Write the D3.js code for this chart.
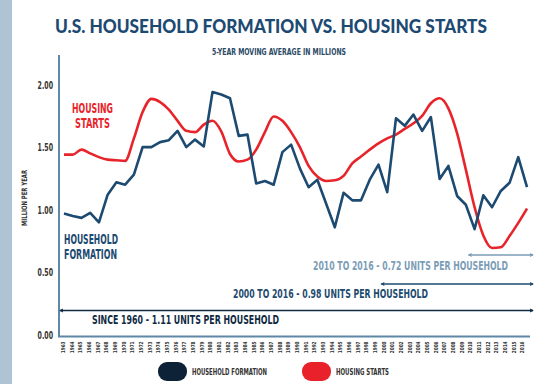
<!DOCTYPE html>
<html>
<head>
<meta charset="utf-8">
<script src="https://cdn.jsdelivr.net/npm/d3@7"></script>
<style>
  body { margin: 0; background: #fff; }
  svg { display: block; }
  .cond { font-family: "DejaVu Sans Condensed", "Liberation Sans Narrow", "DejaVu Sans", sans-serif; font-weight: bold; }
</style>
</head>
<body>
<div id="chart"></div>
<script>
// data (millions, 5-yr moving avg)
var years = d3.range(1963, 2017);
var householdFormation = [
  0.97, 0.95, 0.935, 0.975, 0.90, 1.12, 1.22, 1.20, 1.28, 1.50,
  1.50, 1.54, 1.555, 1.63, 1.50, 1.56, 1.505, 1.94, 1.92, 1.89,
  1.59, 1.60, 1.21, 1.23, 1.20, 1.46, 1.52, 1.33, 1.18, 1.24,
  1.05, 0.86, 1.135, 1.075, 1.075, 1.24, 1.36, 1.14, 1.73, 1.67,
  1.76, 1.63, 1.74, 1.245, 1.35, 1.11, 1.04, 0.845, 1.115, 1.02,
  1.15, 1.215, 1.42, 1.18
];
var housingStarts = [
  1.44, 1.44, 1.48, 1.45, 1.42, 1.40, 1.395, 1.39, 1.57, 1.78,
  1.885, 1.86, 1.80, 1.71, 1.63, 1.62, 1.68, 1.71, 1.625, 1.445,
  1.385, 1.40, 1.48, 1.62, 1.745, 1.71, 1.62, 1.50, 1.35, 1.265,
  1.23, 1.235, 1.27, 1.37, 1.425, 1.48, 1.53, 1.57, 1.60, 1.645,
  1.69, 1.75, 1.85, 1.89, 1.81, 1.61, 1.32, 1.02, 0.795, 0.695,
  0.70, 0.79, 0.895, 1.01
];
var yTicks = [0, 0.5, 1.0, 1.5, 2.0];
// annotation spans: [fromYear, toYear, label]
var spans = [
  [1960, 2016, "SINCE 1960 - 1.11 UNITS PER HOUSEHOLD"],
  [2000, 2016, "2000 TO 2016 - 0.98 UNITS PER HOUSEHOLD"],
  [2010, 2016, "2010 TO 2016 - 0.72 UNITS PER HOUSEHOLD"]
];

var W = 554, H = 384;
var blue = "#1c4a71", red = "#e8242b", navy = "#0e2a43", steel = "#5f88a6";

var svg = d3.select("#chart").append("svg")
  .attr("width", W).attr("height", H);

// left side band
svg.append("rect").attr("x", 0).attr("y", 0).attr("width", 12).attr("height", H)
  .attr("fill", "#aec3d3");

// scales
var x = d3.scaleLinear().domain([1963, 2016]).range([64, 527]);
var xLab = d3.scalePoint().domain(years).range([62.5, 522]);
var y = d3.scaleLinear().domain([0, 2]).range([335, 84.5]);

// titles
svg.append("text")
  .attr("x", 55).attr("y", 33)
  .attr("textLength", 432).attr("lengthAdjust", "spacingAndGlyphs")
  .style("font-family", "Lato, 'Open Sans', sans-serif")
  .style("font-weight", 900).style("font-size", "18px")
  .attr("fill", "#1d4a72")
  .text("U.S. HOUSEHOLD FORMATION VS. HOUSING STARTS");

svg.append("text").attr("class", "cond")
  .attr("x", 212).attr("y", 54.5)
  .attr("textLength", 134).attr("lengthAdjust", "spacingAndGlyphs")
  .style("font-size", "8.5px").attr("fill", "#2a4a66")
  .text("5-YEAR MOVING AVERAGE IN MILLIONS");

// y axis title
svg.append("text").attr("class", "cond")
  .attr("transform", "translate(27,198) rotate(-90)")
  .attr("text-anchor", "middle")
  .attr("textLength", 56).attr("lengthAdjust", "spacingAndGlyphs")
  .style("font-size", "7.5px").attr("fill", "#333")
  .text("MILLION PER YEAR");

// y axis
var yAxis = svg.append("g")
  .attr("transform", "translate(53,0)")
  .call(d3.axisLeft(y).tickValues(yTicks).tickFormat(d3.format(".2f")).tickSize(0).tickPadding(0));
yAxis.select(".domain").remove();
yAxis.selectAll("text").attr("class", "cond")
  .attr("textLength", 15.4).attr("lengthAdjust", "spacingAndGlyphs")
  .style("font-size", "11px").attr("fill", "#333");

// x axis labels (rotated years)
var xAxis = svg.append("g")
  .attr("transform", "translate(0,341.5)")
  .call(d3.axisBottom(xLab).tickSize(0));
xAxis.select(".domain").remove();
xAxis.selectAll("text")
  .attr("class", "cond")
  .attr("transform", "rotate(-90)")
  .attr("x", 0).attr("y", 0).attr("dy", "0.35em")
  .attr("text-anchor", "end")
  .attr("textLength", 11.7).attr("lengthAdjust", "spacingAndGlyphs")
  .style("font-size", "5.5px").attr("fill", "#333");

// frame lines
svg.append("line").attr("x1", 59).attr("x2", 59).attr("y1", 55).attr("y2", 337)
  .attr("stroke", steel).attr("stroke-width", 2);
svg.append("line").attr("x1", 58).attr("x2", 530).attr("y1", 336.5).attr("y2", 336.5)
  .attr("stroke", steel).attr("stroke-width", 2);

// arrow markers
var defs = svg.append("defs");
function marker(id, color) {
  defs.append("marker").attr("id", id)
    .attr("viewBox", "0 0 10 10").attr("refX", 8).attr("refY", 5)
    .attr("markerWidth", 4.2).attr("markerHeight", 4.2)
    .attr("markerUnits", "userSpaceOnUse")
    .attr("orient", "auto-start-reverse")
    .append("path").attr("d", "M0,0 L10,5 L0,10 L2,5 Z").attr("fill", color);
}
var spanColors = [navy, "#1d4a6e", "#7b9cb6"];
spanColors.forEach((c, i) => marker("arr" + i, c));

// span arrows + labels
var spanY = [310.5, 284, 255];
var spanText = [
  {x: 92, y: 324.3, w: 187},
  {x: 233, y: 298, w: 195},
  {x: 313, y: 270, w: 195}
];
spans.forEach((s, i) => {
  var x1 = i == 0 ? 60 : x(s[0]) - 6;
  svg.append("line")
    .attr("x1", x1).attr("x2", 533)
    .attr("y1", spanY[i]).attr("y2", spanY[i])
    .attr("stroke", spanColors[i]).attr("stroke-width", 1.6)
    .attr("marker-start", "url(#arr" + i + ")")
    .attr("marker-end", "url(#arr" + i + ")");
  svg.append("text").attr("class", "cond")
    .attr("x", spanText[i].x).attr("y", spanText[i].y)
    .attr("textLength", spanText[i].w).attr("lengthAdjust", "spacingAndGlyphs")
    .style("font-size", "11.5px").attr("fill", spanColors[i])
    .text(s[2]);
});

// lines
var lineFn = d3.line().x((d, i) => x(years[i])).y(d => y(d));
svg.append("path").datum(housingStarts)
  .attr("d", lineFn.curve(d3.curveMonotoneX))
  .attr("fill", "none").attr("stroke", red).attr("stroke-width", 2.6)
  .attr("stroke-linejoin", "round");
svg.append("path").datum(householdFormation)
  .attr("d", d3.line().x((d, i) => x(years[i])).y(d => y(d)))
  .attr("fill", "none").attr("stroke", blue).attr("stroke-width", 2.6)
  .attr("stroke-linejoin", "round");

// in-chart series labels
var hs = svg.append("text").attr("class", "cond")
  .attr("text-anchor", "middle").style("font-size", "13.5px").attr("fill", red);
hs.append("tspan").attr("x", 92.5).attr("y", 113.3)
  .attr("textLength", 41).attr("lengthAdjust", "spacingAndGlyphs").text("HOUSING");
hs.append("tspan").attr("x", 92.5).attr("y", 128.3)
  .attr("textLength", 35).attr("lengthAdjust", "spacingAndGlyphs").text("STARTS");

var hf = svg.append("text").attr("class", "cond")
  .style("font-size", "13.5px").attr("fill", blue);
hf.append("tspan").attr("x", 64).attr("y", 244)
  .attr("textLength", 54).attr("lengthAdjust", "spacingAndGlyphs").text("HOUSEHOLD");
hf.append("tspan").attr("x", 64).attr("y", 259.3)
  .attr("textLength", 53).attr("lengthAdjust", "spacingAndGlyphs").text("FORMATION");

// legend
var legend = [
  {name: "HOUSEHOLD FORMATION", color: "#0d2236", x: 158, w: 75},
  {name: "HOUSING STARTS", color: "#e8212a", x: 302, w: 53}
];
legend.forEach(l => {
  svg.append("rect").attr("x", l.x).attr("y", 362).attr("width", 29).attr("height", 19)
    .attr("rx", 9).attr("fill", l.color);
  svg.append("text").attr("class", "cond")
    .attr("x", l.x + 34).attr("y", 375)
    .attr("textLength", l.w).attr("lengthAdjust", "spacingAndGlyphs")
    .style("font-size", "8.5px").attr("fill", "#333")
    .text(l.name);
});
</script>
</body>
</html>
